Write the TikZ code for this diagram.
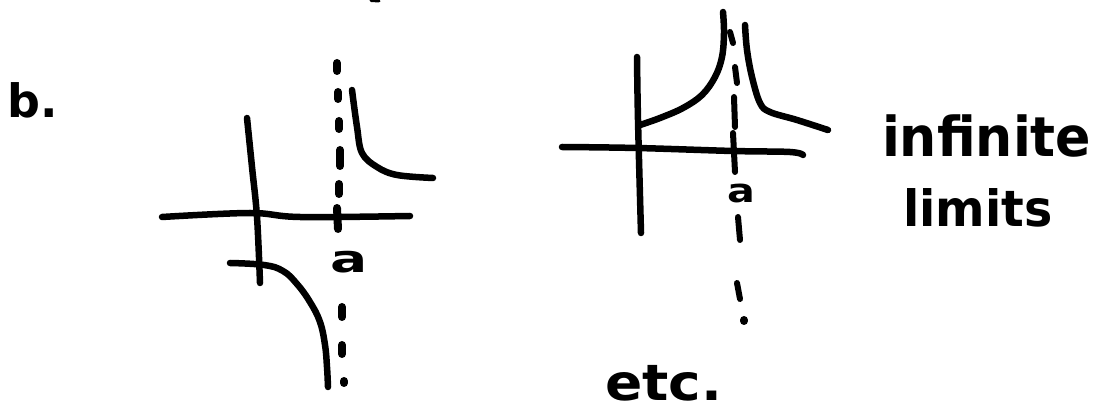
\documentclass[tikz,border=0pt]{standalone}
\usepackage{fontspec}
\setmainfont{DejaVu Sans}
\usepackage{graphicx}
\tikzset{
  ink/.style={line width=6.5pt, line cap=round, line join=round},
  dotink/.style={line width=8pt, line cap=round},
  dashink/.style={line width=6pt, line cap=round},
  hand/.style={inner sep=0pt, outer sep=0pt, anchor=base west, font=\bfseries},
}
\begin{document}
\begin{tikzpicture}[x=1pt,y=-1pt]
\useasboundingbox (0,0) rectangle (1095,411);
% tiny fragment at top
\draw[ink, line width=3pt] (371,0.5) -- (379,1);
% ---------- left sketch ----------
\node[hand] (lblb) at (8,118) {\fontsize{46}{50}\selectfont b.};
\draw[ink] plot[smooth, tension=0.6] coordinates {(162,217) (250,213) (300,217) (410,216)};
\draw[ink] plot[smooth, tension=0.6] coordinates {(247,118) (252,167) (257,217) (260,283)};
\draw[ink] plot[smooth, tension=0.6] coordinates {(352,90) (357,127) (362,153) (377,167) (397,175) (433,178)};
\draw[ink] plot[smooth, tension=0.7] coordinates {(230,263) (264,265) (283,271) (297,284) (310,302) (320,322) (325,345) (327,367) (328,387)};
\draw[dotink] (337,63) -- (337,71);
\draw[dotink] (338,92) -- (338,99);
\draw[dotink] (339,121) -- (339,129);
\draw[dotink] (340,150) -- (340,166);
\draw[dotink] (339,184) -- (339,194);
\draw[dotink] (337,208) -- (338,229);
\draw[dotink] (342,307) -- (342,317);
\draw[dotink] (342,345) -- (342,354);
\draw[dotink] (344,381) -- (344,383);
\node[hand] (lbla1) at (330,273) {\fontsize{38}{42}\selectfont\scalebox{1.45}[1]{a}};
% ---------- right sketch ----------
\draw[ink] plot[smooth, tension=0.6] coordinates {(562,147) (637,148) (733,151) (790,152) (803,155)};
\draw[ink] plot[smooth, tension=0.6] coordinates {(637,57) (638,120) (641,233)};
\draw[ink] plot[smooth, tension=0.6] coordinates {(640,125) (660,118) (683,108) (702,95) (715,77) (722,57) (724,33) (723,12)};
\draw[ink] plot[smooth, tension=0.6] coordinates {(745,25) (747,50) (752,77) (760,103) (770,112) (797,120) (828,130)};
\draw[dashink] (730,32) -- (733,43);
\draw[dashink] (735,67) -- (737,83);
\draw[dashink] (734,97) -- (735,127);
\draw[dashink] (733,133) -- (735,172);
\draw[dashink] (738,217) -- (740,240);
\draw[dashink] (737,283) -- (740,299);
\draw[dotink] (744,320) -- (744,321);
\node[hand] (lbla2) at (727,203) {\fontsize{33}{36}\selectfont\scalebox{1.25}[1]{a}};
\node[hand] (lblinf) at (882,157) {\fontsize{55}{60}\selectfont\scalebox{0.95}[1]{infinite}};
\node[hand] (lbllim) at (903,227) {\fontsize{50}{55}\selectfont\scalebox{0.95}[1]{limits}};
\node[hand] (lbletc) at (605,400) {\fontsize{50}{55}\selectfont\scalebox{1.1}[1]{etc.}};
\end{tikzpicture}
\end{document}
